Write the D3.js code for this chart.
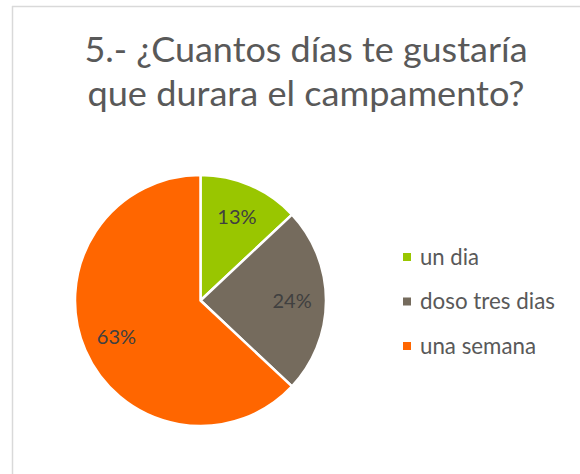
<!DOCTYPE html>
<html><head><meta charset="utf-8">
<script src="https://cdn.jsdelivr.net/npm/d3@7"></script>
<style>html,body{margin:0;padding:0;background:#fff;}svg{display:block;}</style>
</head><body>
<svg id="chart" width="580" height="474"></svg>
<script>
const titleLines = ["5.- ¿Cuantos días te gustaría", "que durara el campamento?"];
const categories = ["un dia", "doso tres dias", "una semana"];
const values = [13, 24, 63];
const labels = ["13%", "24%", "63%"];
const colors = ["#99C600", "#756B5D", "#FF6600"];

const svg = d3.select("#chart");
const font = "Lato, Carlito, 'Open Sans', sans-serif";

// frame
svg.append("line").attr("x1", 12.5).attr("x2", 12.5).attr("y1", 6).attr("y2", 474)
  .attr("stroke", "#d9d9d9").attr("stroke-width", 1.5);
svg.append("line").attr("x1", 12).attr("x2", 580).attr("y1", 6.5).attr("y2", 6.5)
  .attr("stroke", "#d9d9d9").attr("stroke-width", 1.5);

// title
const titleBase = [62, 106];
const titleWidths = [443, 437];
titleLines.forEach((t, i) => {
  svg.append("text").attr("x", 306).attr("y", titleBase[i])
    .attr("text-anchor", "middle").attr("font-family", font)
    .attr("font-size", 34.5).attr("fill", "#595959")
    .attr("textLength", titleWidths[i]).attr("lengthAdjust", "spacingAndGlyphs")
    .text(t);
});

// pie
const cx = 200.5, cy = 300.5, r = 125.5;
const pie = d3.pie().sort(null).value(d => d)(values);
const arc = d3.arc().innerRadius(0).outerRadius(r);
const g = svg.append("g").attr("transform", `translate(${cx},${cy})`);
g.selectAll("path").data(pie).join("path")
  .attr("d", arc).attr("fill", (d, i) => colors[i])
  .attr("stroke", "#fff").attr("stroke-width", 2.5).attr("stroke-linejoin", "round");

const labelArc = d3.arc().innerRadius(r * 0.73).outerRadius(r * 0.73);
g.selectAll("text.lbl").data(pie).join("text").attr("class", "lbl")
  .attr("transform", d => { const c = labelArc.centroid(d); return `translate(${c[0]},${c[1]})`; })
  .attr("text-anchor", "middle").attr("dy", "0.36em")
  .attr("font-family", font).attr("font-size", 20).attr("fill", "#404040")
  .text((d, i) => labels[i]);

// legend
const legY = d3.scalePoint().domain(categories).range([257, 346]);
const legW = [59, 135, 116];
const leg = svg.append("g");
categories.forEach((c, i) => {
  leg.append("rect").attr("x", 403).attr("y", legY(c) - 4).attr("width", 8).attr("height", 8)
    .attr("fill", colors[i]);
  leg.append("text").attr("x", 420).attr("y", legY(c)).attr("dy", "0.33em")
    .attr("font-family", font).attr("font-size", 23).attr("fill", "#595959")
    .attr("textLength", legW[i]).attr("lengthAdjust", "spacingAndGlyphs")
    .text(c);
});
</script>
</body></html>
